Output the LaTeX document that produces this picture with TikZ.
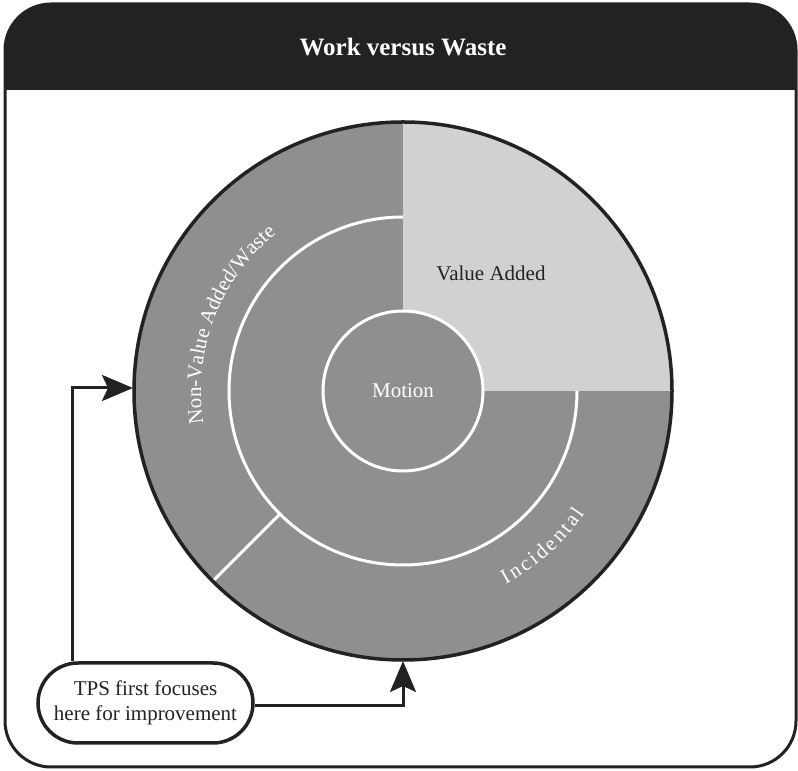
\documentclass[tikz,border=0pt]{standalone}
\usepackage{fontspec}
\setmainfont{Liberation Serif}
\usetikzlibrary{arrows.meta,decorations.text,calc}
\definecolor{wastegray}{HTML}{8F8F8F}
\definecolor{valuegray}{HTML}{D1D1D1}
\definecolor{inkdark}{HTML}{222222}
\newcommand{\spc}[1]{{#1\kern2.6pt}}
\begin{document}
\begin{tikzpicture}[x=1pt,y=1pt,
  lbl/.style={font=\fontsize{21}{25}\selectfont},
  conn/.style={line width=3pt, draw=inkdark,
    -{Stealth[length=31pt,width=26pt,inset=6pt]}},
  callout/.style={draw=inkdark, line width=3.5pt, rounded corners=40pt,
    minimum width=215pt, minimum height=80pt, align=center,
    inner sep=0pt, lbl, fill=white, text=inkdark},
  ringline/.style={white, line width=3pt},
]
\useasboundingbox (0,0) rectangle (798,771);

% frame with its dark title band
\begin{scope}
  \clip[rounded corners=46pt] (5,4) rectangle (796,767);
  \fill[inkdark] (5,681) rectangle (796,767);
\end{scope}
\draw[inkdark, line width=3pt, rounded corners=46pt] (5,4) rectangle (796,767);
\node[font=\bfseries\fontsize{25}{30}\selectfont, text=white] (title) at (403,724) {Work versus Waste};

% the work/waste wheel
\coordinate (C) at (403,380);
\fill[wastegray] (C) circle[radius=269];
\fill[valuegray] (C) -- ++(0:269) arc[start angle=0, end angle=90, radius=269] -- cycle;
\draw[ringline] ($(C)+(90:174)$) arc[start angle=90, end angle=360, radius=174];
\draw[ringline] ($(C)+(225:174)$) -- ($(C)+(225:269)$);
\node[circle, fill=wastegray, draw=white, line width=3pt, minimum size=160pt,
  inner sep=0pt, text=white, lbl] (motion) at (C) {Motion};
\draw[inkdark, line width=3.5pt] (C) circle[radius=269];

\node[lbl, text=inkdark] (value) at (491,498) {Value Added};

% labels that follow the outer ring
\path[decorate, decoration={text along path, text align=center,
  text={|\color{white}\fontsize{21}{25}\selectfont|Non-Value Added/Waste}}]
  ($(C)+(200:202)$) arc[start angle=200, end angle=118, radius=202];
\path[decorate, decoration={text along path, text align=center,
  text={|\color{white}\fontsize{21}{25}\selectfont|{I\kern2.6pt}{n\kern2.6pt}{c\kern2.6pt}{i\kern2.6pt}{d\kern2.6pt}{e\kern2.6pt}{n\kern2.6pt}{t\kern2.6pt}{a\kern2.6pt}l}}]
  ($(C)+(-80:219)$) arc[start angle=-80, end angle=-16, radius=219];

% callout and its two pointers
\node[callout] (tps) at (145.5,68) {TPS first focuses\\here for improvement};
\coordinate (westtip) at ($(C)+(-270,3)$);
\coordinate (southtip) at ($(C)+(0,-270)$);
\coordinate (lx) at (72,0);
\draw[conn] (tps.north -| lx) |- (westtip);
\draw[conn] ([yshift=-3pt]tps.east) -| (southtip);
\end{tikzpicture}
\end{document}
